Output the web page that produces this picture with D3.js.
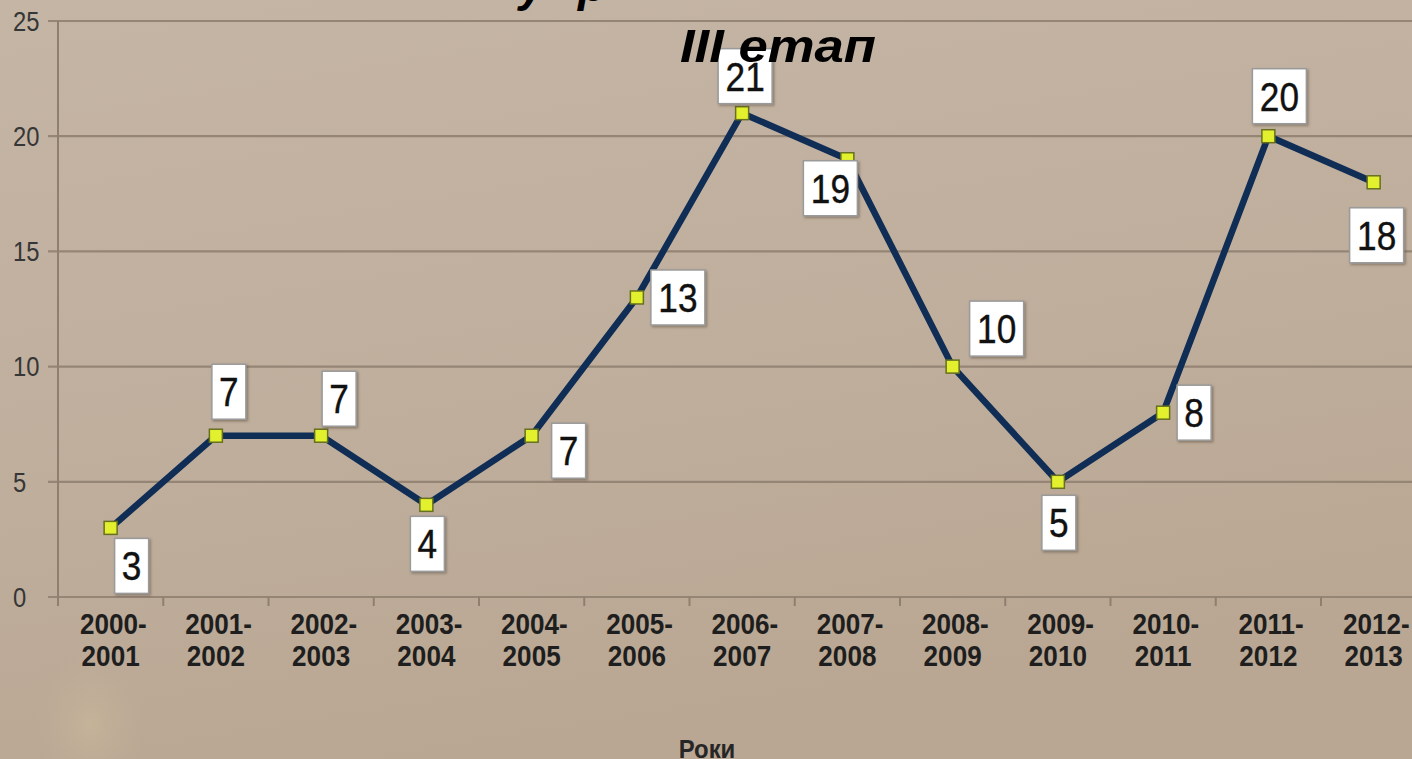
<!DOCTYPE html>
<html>
<head>
<meta charset="utf-8">
<script src="https://cdn.jsdelivr.net/npm/d3@7.9.0/dist/d3.min.js"></script>
<style>
  html, body { margin: 0; padding: 0; overflow: hidden; background: #c0b09f; }
  svg { display: block; font-family: "Liberation Sans", Arial, sans-serif; }
</style>
</head>
<body>
<svg id="chart" width="1412" height="759"></svg>
<script>
// chart data
const periods = ["2000-2001", "2001-2002", "2002-2003", "2003-2004", "2004-2005", "2005-2006",
  "2006-2007", "2007-2008", "2008-2009", "2009-2010", "2010-2011", "2011-2012", "2012-2013"];
const counts = [3, 7, 7, 4, 7, 13, 21, 19, 10, 5, 8, 20, 18];
const yTicks = [0, 5, 10, 15, 20, 25];

// where each value box sits relative to its point (dx, dy of box centre)
const labelOffsets = [[21, 38], [13, -44], [18, -37], [1, 39], [37, 15], [41, 0], [3, -37],
  [-17, 29], [44, -38], [1, 41], [31, 0], [11, -40], [3, 53]];

const svg = d3.select("#chart");
const W = 1412, H = 759;

// background: paper-like beige with soft gradients
const defs = svg.append("defs");
let bg = defs.append("linearGradient").attr("id", "bg").attr("x1", 0).attr("y1", 0).attr("x2", 0.3).attr("y2", 1);
bg.append("stop").attr("offset", "0%").attr("stop-color", "#c5b5a5");
bg.append("stop").attr("offset", "60%").attr("stop-color", "#bfae9c");
bg.append("stop").attr("offset", "100%").attr("stop-color", "#b9a793");
let stain = defs.append("radialGradient").attr("id", "stain");
stain.append("stop").attr("offset", "0%").attr("stop-color", "#cdbc9c").attr("stop-opacity", 0.55);
stain.append("stop").attr("offset", "100%").attr("stop-color", "#c4b299").attr("stop-opacity", 0);
defs.append("filter").attr("id", "shadow").attr("x", "-20%").attr("y", "-20%").attr("width", "150%").attr("height", "150%")
  .append("feDropShadow").attr("dx", 1.5).attr("dy", 1.5).attr("stdDeviation", 1.2)
  .attr("flood-color", "#4a3c2e").attr("flood-opacity", 0.45);

svg.append("rect").attr("width", W).attr("height", H).attr("fill", "url(#bg)");
svg.append("ellipse").attr("cx", 90).attr("cy", 725).attr("rx", 55).attr("ry", 70).attr("fill", "url(#stain)");

// scales
const x = d3.scaleBand().domain(periods).range([58, 58 + 13 * 105.25]);
const y = d3.scaleLinear().domain([0, 25]).range([597, 21]);
const cx = d => x(d) + x.bandwidth() / 2;

// horizontal grid lines
svg.append("g")
  .selectAll("line")
  .data(yTicks)
  .enter()
  .append("line")
  .attr("x1", 48).attr("x2", W)
  .attr("y1", d => y(d)).attr("y2", d => y(d))
  .attr("stroke", "#958574")
  .attr("stroke-width", 2.2);

// y axis line
svg.append("line")
  .attr("x1", 58).attr("x2", 58)
  .attr("y1", y(25)).attr("y2", y(0) + 9)
  .attr("stroke", "#8f7f6f").attr("stroke-width", 2);

// y tick labels (left aligned like the original)
svg.append("g")
  .selectAll("text")
  .data(yTicks)
  .enter()
  .append("text")
  .attr("transform", d => `translate(13,${y(d)}) scale(0.88,1)`)
  .attr("dy", "0.36em")
  .attr("font-size", "27px")
  .attr("fill", "#363636")
  .text(d => d);

// x axis ticks between categories
svg.append("g")
  .selectAll("line")
  .data(periods.slice(1))
  .enter()
  .append("line")
  .attr("x1", d => x(d)).attr("x2", d => x(d))
  .attr("y1", y(0)).attr("y2", y(0) + 9)
  .attr("stroke", "#8f7f6f").attr("stroke-width", 2);

// x category labels, two lines
let xl = svg.append("g")
  .selectAll("text")
  .data(periods)
  .enter()
  .append("text")
  .attr("transform", d => `translate(${cx(d)},0) scale(0.9,1)`)
  .attr("text-anchor", "middle")
  .attr("font-size", "29px")
  .attr("font-weight", "bold")
  .attr("fill", "#1e1e1e");
xl.append("tspan").attr("x", 3).attr("y", 634).text(d => d.split("-")[0] + "-");
xl.append("tspan").attr("x", 0).attr("y", 666).text(d => d.split("-")[1]);

// the line
const pts = periods.map((p, i) => ({ p, v: counts[i], i }));
svg.append("path")
  .datum(pts)
  .attr("fill", "none")
  .attr("stroke", "#0f2d55")
  .attr("stroke-width", 6.5)
  .attr("stroke-linejoin", "round")
  .attr("d", d3.line().x(d => cx(d.p)).y(d => y(d.v)));

// markers
svg.append("g")
  .selectAll("rect")
  .data(pts)
  .enter()
  .append("rect")
  .attr("x", d => cx(d.p) - 6.5).attr("y", d => y(d.v) - 6.5)
  .attr("width", 13).attr("height", 13)
  .attr("fill", "#e3f02e")
  .attr("stroke", "#66701f")
  .attr("stroke-width", 1.5);

// value boxes
let lab = svg.append("g")
  .selectAll("g")
  .data(pts)
  .enter()
  .append("g")
  .attr("transform", d => `translate(${cx(d.p) + labelOffsets[d.i][0]},${y(d.v) + labelOffsets[d.i][1]})`);

lab.append("rect")
  .attr("x", d => -(String(d.v).length * 20 + 14) / 2)
  .attr("y", -27.5)
  .attr("width", d => String(d.v).length * 20 + 14)
  .attr("height", 55)
  .attr("fill", "#ffffff")
  .attr("stroke", "#9a9a9a")
  .attr("stroke-width", 1.5)
  .attr("filter", "url(#shadow)");

lab.append("text")
  .attr("transform", "scale(0.88,1)")
  .attr("text-anchor", "middle")
  .attr("dy", "0.36em")
  .attr("font-size", "40px")
  .attr("fill", "#111")
  .attr("stroke", "#111")
  .attr("stroke-width", 0.4)
  .text(d => d.v);

// title (mostly cut off at the top) and stage label
svg.append("text").attr("x", 519).attr("y", 1)
  .attr("font-size", "46px").attr("font-weight", "bold").attr("font-style", "italic")
  .attr("fill", "#000").text("у");
svg.append("text").attr("x", 578).attr("y", 1)
  .attr("font-size", "46px").attr("font-weight", "bold").attr("font-style", "italic")
  .attr("fill", "#000").text("р");
svg.append("text")
  .attr("x", 680).attr("y", 62)
  .attr("font-size", "46px").attr("font-weight", "bold").attr("font-style", "italic")
  .attr("textLength", 196).attr("lengthAdjust", "spacingAndGlyphs")
  .attr("fill", "#000")
  .text("III етап");

// axis title
svg.append("text")
  .attr("transform", "translate(707,758) scale(0.92,1)")
  .attr("text-anchor", "middle")
  .attr("font-size", "26px")
  .attr("font-weight", "bold")
  .attr("fill", "#262626")
  .text("Роки");
</script>
</body>
</html>
